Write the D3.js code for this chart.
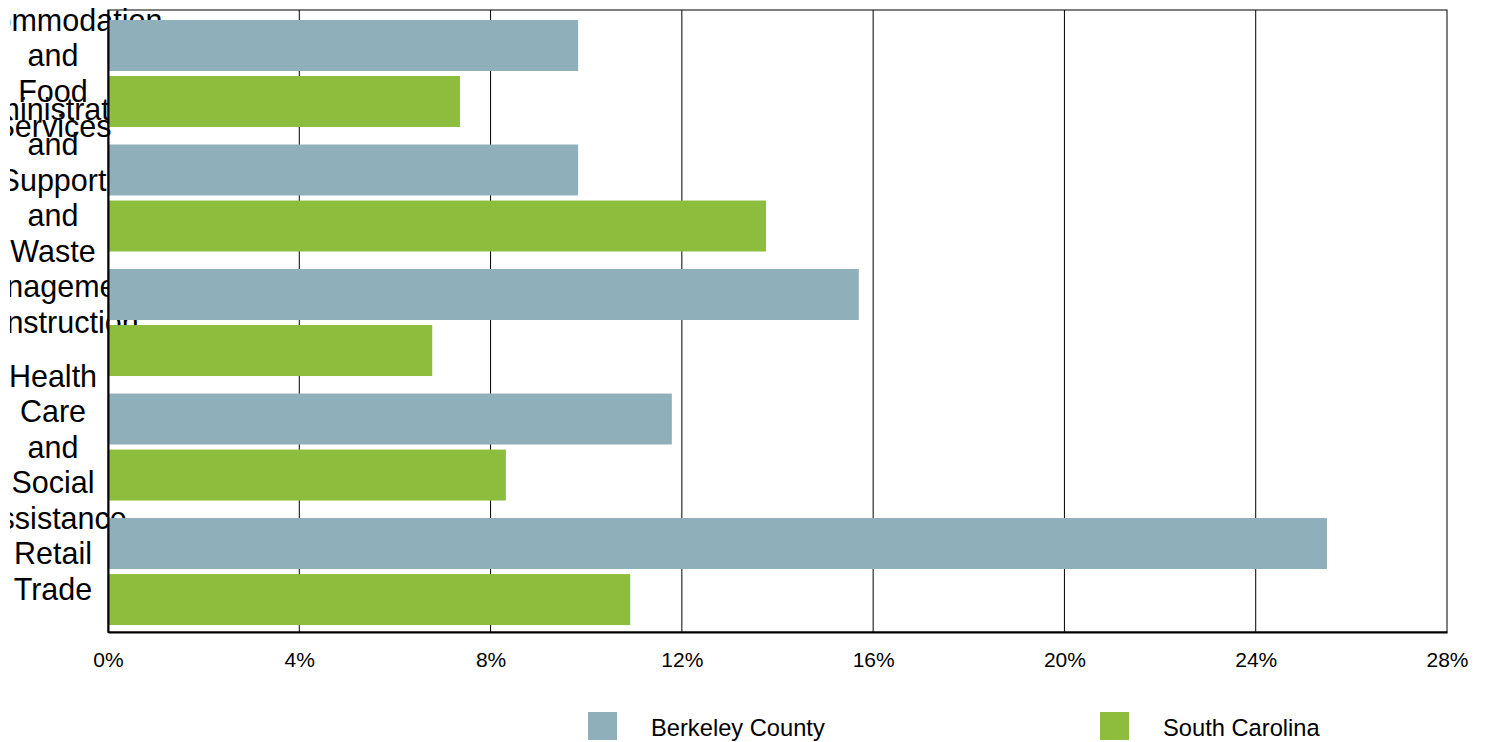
<!DOCTYPE html>
<html>
<head>
<meta charset="utf-8">
<script src="https://cdn.jsdelivr.net/npm/d3@7"></script>
<style>
  body { margin: 0; background: #fff; }
  svg { display: block; font-family: "Liberation Sans", Arial, sans-serif; }
</style>
</head>
<body>
<svg id="chart" width="1486" height="742"></svg>
<script>
// data
var categories = ["Accommodation and Food Services",
    "Administrative and Support and Waste Management",
    "Construction",
    "Health Care and Social Assistance",
    "Retail Trade"];
var seriesNames = ["Berkeley County", "South Carolina"];
var berkeleyValues = [9.83, 9.83, 15.7, 11.79, 25.49];
var southCarolinaValues = [7.36, 13.76, 6.78, 8.32, 10.92];
var tickValues = [0, 4, 8, 12, 16, 20, 24, 28];
var colors = ["#8FAFBA", "#8DBD3C"];

var svg = d3.select("#chart");
var plotLeft = 108, plotRight = 1447, plotTop = 10, plotBottom = 632;

var x = d3.scaleLinear().domain([0, 28]).range([plotLeft, plotRight]);
var y = d3.scaleBand().domain(categories).range([plotTop, plotBottom])
    .paddingInner(0.1406).paddingOuter(0.068).align(0.59);
var ySub = d3.scaleBand().domain(seriesNames).range([0, y.bandwidth()])
    .paddingInner(0.09).paddingOuter(0);

var rows = categories.map(function (c, i) {
    return { cat: c, values: [berkeleyValues[i], southCarolinaValues[i]] };
});

// labels get cut on the left, like the original
svg.append("clipPath").attr("id", "labelClip")
    .append("rect").attr("x", 10).attr("y", 0).attr("width", 1476).attr("height", 742);

// gridlines
svg.append("g").selectAll("line")
    .data(tickValues.slice(1, -1))
    .join("line")
    .attr("x1", function (d) { return x(d); })
    .attr("x2", function (d) { return x(d); })
    .attr("y1", plotTop).attr("y2", plotBottom)
    .attr("stroke", "#000").attr("stroke-width", 1);

// category labels, one word per line (drawn before bars, bars overlap them)
var lineH = 35.5;
svg.append("g").attr("clip-path", "url(#labelClip)").selectAll("text")
    .data(categories)
    .join("text")
    .attr("text-anchor", "middle")
    .attr("font-size", 30.5)
    .attr("fill", "#000")
    .each(function (d) {
        var words = d.split(" ");
        var cy = y(d) + y.bandwidth() / 2;
        var startY = cy - (words.length - 1) * lineH / 2;
        var t = d3.select(this);
        words.forEach(function (w, k) {
            t.append("tspan").attr("x", 53).attr("y", startY + k * lineH)
                .attr("dy", "0.35em").text(w);
        });
    });

// bars
var groups = svg.append("g").selectAll("g")
    .data(rows)
    .join("g")
    .attr("transform", function (d) { return "translate(0," + y(d.cat) + ")"; });

groups.selectAll("rect")
    .data(function (d) { return d.values.map(function (v, k) { return { name: seriesNames[k], v: v, k: k }; }); })
    .join("rect")
    .attr("x", x(0))
    .attr("y", function (d) { return ySub(d.name); })
    .attr("width", function (d) { return x(d.v) - x(0); })
    .attr("height", ySub.bandwidth())
    .attr("fill", function (d) { return colors[d.k]; });

// frame
svg.append("rect")
    .attr("x", plotLeft).attr("y", plotTop)
    .attr("width", plotRight - plotLeft).attr("height", plotBottom - plotTop)
    .attr("fill", "none").attr("stroke", "#000").attr("stroke-width", 1);
svg.append("line").attr("x1", plotLeft + 0.5).attr("x2", plotLeft + 0.5)
    .attr("y1", plotTop).attr("y2", plotBottom + 1)
    .attr("stroke", "#000").attr("stroke-width", 2);

// x axis
var xAxis = d3.axisBottom(x).tickValues(tickValues)
    .tickFormat(function (d) { return d + "%"; })
    .tickSize(0).tickPadding(20);
var ax = svg.append("g").attr("transform", "translate(0," + plotBottom + ")").call(xAxis);
ax.select(".domain").attr("stroke", "#000").attr("stroke-width", 2);
ax.selectAll("text").attr("font-size", 21).attr("fill", "#000")
    .attr("font-family", "Liberation Sans, Arial, sans-serif");

// legend
var legendX = [588, 1100];
var legend = svg.append("g").selectAll("g")
    .data(seriesNames)
    .join("g")
    .attr("transform", function (d, i) { return "translate(" + legendX[i] + ",712)"; });
legend.append("rect").attr("width", 29).attr("height", 28)
    .attr("fill", function (d, i) { return colors[i]; });
legend.append("text").attr("x", 63).attr("y", 16).attr("dy", "0.35em")
    .attr("font-size", 23.7).attr("fill", "#000").text(function (d) { return d; });
</script>
</body>
</html>
